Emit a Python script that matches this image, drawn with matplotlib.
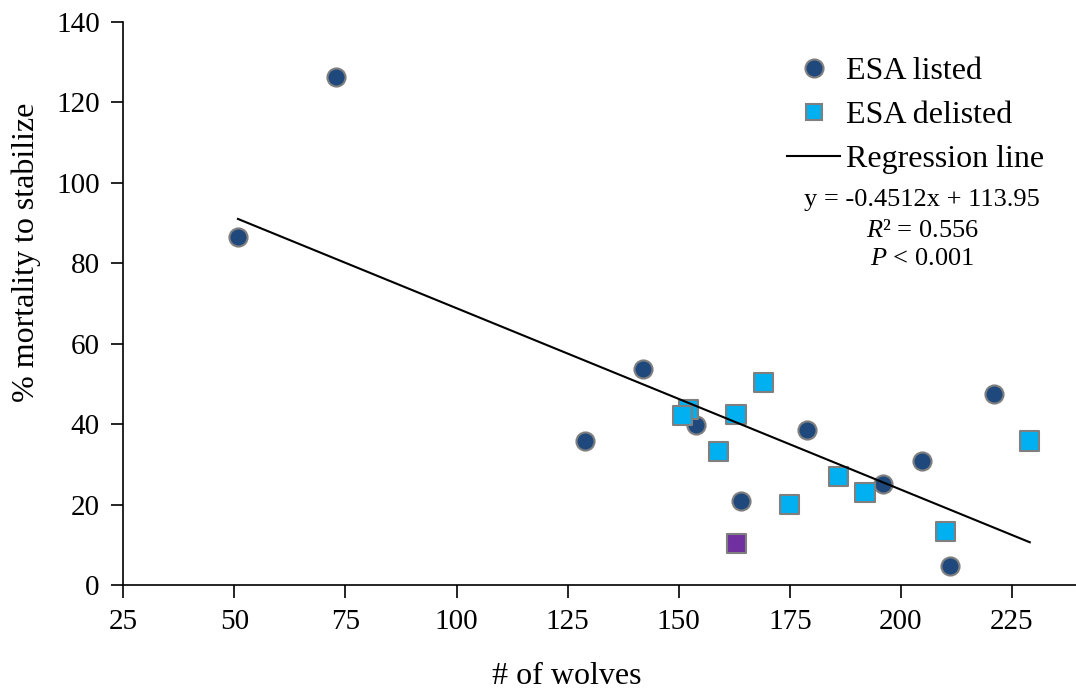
import matplotlib
matplotlib.use("Agg")
from matplotlib import pyplot as plt
from matplotlib.lines import Line2D

plt.rcParams["font.family"] = ["Liberation Serif", "DejaVu Serif"]
plt.rcParams["mathtext.fontset"] = "custom"
plt.rcParams["mathtext.rm"] = "Liberation Serif"
plt.rcParams["mathtext.it"] = "Liberation Serif:italic"

# ESA listed populations
listed_x = [50.8, 72.9, 128.9, 142.0, 153.8, 163.9, 178.8, 195.9, 204.7, 211.0, 220.9]
listed_y = [86.5, 126.3, 35.8, 53.7, 39.8, 20.9, 38.5, 25.1, 30.8, 4.7, 47.5]

# ESA delisted populations (last one highlighted purple)
delisted_x = [152.1, 150.9, 162.9, 169.0, 159.0, 185.9, 175.0, 191.9, 210.0, 229.0, 163.0]
delisted_y = [43.7, 42.2, 42.4, 50.4, 33.3, 26.9, 20.0, 23.0, 13.3, 35.8, 10.4]

SLOPE = -0.4512
INTERCEPT = 113.95

LISTED_COL = "#1F497D"
DELISTED_COL = "#00B0F0"
PURPLE = "#7030A0"
EDGE = "#7F7F7F"

fig = plt.figure(figsize=(10.76, 6.89), dpi=100)
ax = fig.add_axes([123.3 / 1076, 1 - 585 / 689, 1 - 123.3 / 1076, (585 - 22) / 689])

ax.scatter(listed_x, listed_y, s=170, marker="o", color=LISTED_COL,
           edgecolor=EDGE, linewidth=1.5, zorder=3)
del_cols = [DELISTED_COL] * (len(delisted_x) - 1) + [PURPLE]
ax.scatter(delisted_x, delisted_y, s=190, marker="s", c=del_cols,
           edgecolor=EDGE, linewidth=1.5, zorder=4)

all_x = listed_x + delisted_x
lx = [min(all_x), max(all_x)]
ly = [SLOPE * v + INTERCEPT for v in lx]
ax.plot(lx, ly, color="black", linewidth=1.5, zorder=5)

ax.set_xlim(25, 239.4)
ax.set_ylim(0, 140)
ax.set_xticks(range(25, 226, 25))
ax.set_yticks(range(0, 141, 20))
ax.tick_params(direction="out", length=9, width=1.2, labelsize=21, pad=8)
for s in ["top", "right"]:
    ax.spines[s].set_visible(False)
for s in ["left", "bottom"]:
    ax.spines[s].set_linewidth(1.2)

fig.text(567 / 1076, 1 - 676 / 689, "# of wolves", fontsize=23,
         ha="center", va="center")
fig.text(26 / 1076, 1 - 252 / 689, "% mortality to stabilize", fontsize=23,
         ha="center", va="center", rotation=90)

handles = [
    Line2D([], [], marker="o", linestyle="none", markersize=13,
           markerfacecolor=LISTED_COL, markeredgecolor=EDGE, markeredgewidth=1.5),
    Line2D([], [], marker="s", linestyle="none", markersize=12,
           markerfacecolor=DELISTED_COL, markeredgecolor=EDGE, markeredgewidth=1.5),
    Line2D([], [], color="black", linewidth=1.5),
]
ax.legend(handles, ["ESA listed", "ESA delisted", "Regression line"],
          loc="upper left", bbox_to_anchor=(787 / 1076, 1 - 57 / 689),
          bbox_transform=fig.transFigure, frameon=False, fontsize=23,
          handlelength=1.66, handletextpad=0.18, labelspacing=0.45,
          borderaxespad=0, borderpad=0)

eq_lines = ["y = -0.4512x + 113.95", "$R$² = 0.556", "$P$ < 0.001"]
eq_rows = [200, 231, 259]
for txt, yp in zip(eq_lines, eq_rows):
    fig.text(922 / 1076, 1 - yp / 689, txt, ha="center", va="center",
             fontsize=19)

fig.savefig("out.png", dpi=100)
